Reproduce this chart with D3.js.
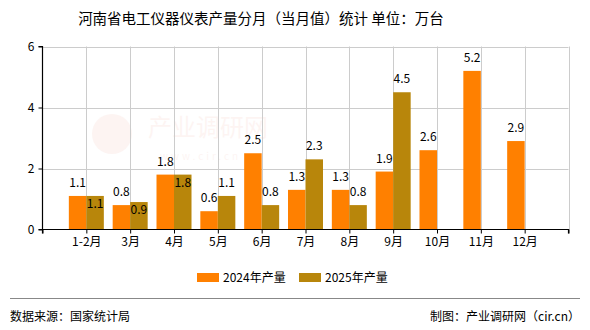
<!DOCTYPE html>
<html>
<head>
<meta charset="utf-8">
<script src="https://cdn.jsdelivr.net/npm/d3@7"></script>
<style>
  html, body { margin: 0; padding: 0; background: #fff; }
  svg { display: block; }
  text { font-family: "SimSun", "Noto Sans CJK SC", sans-serif; }
</style>
</head>
<body>
<svg id="chart" width="590" height="330"></svg>
<script>
// Monthly output (10k units) of electrical instruments, Henan province
const categories = ["1-2月", "3月", "4月", "5月", "6月", "7月", "8月", "9月", "10月", "11月", "12月"];
const values2024 = [1.1, 0.8, 1.8, 0.6, 2.5, 1.3, 1.3, 1.9, 2.6, 5.2, 2.9];
const values2025 = [1.1, 0.9, 1.8, 1.1, 0.8, 2.3, 0.8, 4.5, null, null, null];
const seriesNames = ["2024年产量", "2025年产量"];
const yTicks = [0, 2, 4, 6];

const colors = ["#FF8000", "#B8860B"];

const svg = d3.select("#chart");

const plotLeft = 42.5, plotRight = 568.5, plotTop = 46.5, plotBottom = 229.5;

// x positions: categories sit at 1..11 on a 0..12 axis
const x = d3.scaleLinear().domain([0, categories.length + 1]).range([plotLeft, plotRight]);
const y = d3.scaleLinear().domain([0, 6]).range([plotBottom, plotTop]);
const barW = 17.5;

// title
svg.append("text")
  .attr("x", 261).attr("y", 24)
  .attr("text-anchor", "middle")
  .attr("font-size", 14.5)
  .attr("fill", "#000")
  .text("河南省电工仪器仪表产量分月（当月值）统计 单位：万台");

// faint watermark
const wm = svg.append("g").attr("opacity", 0.05);
wm.append("circle").attr("cx", 112).attr("cy", 134).attr("r", 20).attr("fill", "#e0401a");
wm.append("text").attr("x", 148).attr("y", 136).attr("font-size", 24).attr("fill", "#e0401a").text("产业调研网");
wm.append("text").attr("x", 160).attr("y", 160).attr("font-size", 10).attr("fill", "#e0401a").attr("letter-spacing", 3).text("www.cir.cn");

// grid
const grid = svg.append("g").attr("stroke", "#cccccc").attr("stroke-width", 1);
grid.selectAll("line.h").data(yTicks.filter(d => d > 0)).join("line")
  .attr("x1", plotLeft).attr("x2", plotRight)
  .attr("y1", d => Math.round(y(d)) + 0.5).attr("y2", d => Math.round(y(d)) + 0.5);
grid.selectAll("line.v").data(d3.range(1, categories.length + 2)).join("line")
  .attr("x1", d => Math.round(x(d)) + 0.5).attr("x2", d => Math.round(x(d)) + 0.5)
  .attr("y1", plotTop).attr("y2", plotBottom);

// bars
const series = [values2024, values2025];
series.forEach((vals, s) => {
  svg.append("g").selectAll("rect")
    .data(vals.map((v, i) => ({ v, i })).filter(d => d.v != null))
    .join("rect")
    .attr("x", d => x(d.i + 1) - (s === 0 ? barW : 0))
    .attr("width", barW)
    .attr("y", d => y(d.v))
    .attr("height", d => y(0) - y(d.v))
    .attr("fill", colors[s]);
});

// value labels
const labels = svg.append("g").attr("font-size", 12).attr("fill", "#000").attr("text-anchor", "middle");
categories.forEach((c, i) => {
  const a = values2024[i], b = values2025[i];
  if (a != null) {
    labels.append("text")
      .attr("x", x(i + 1) - barW / 2)
      .attr("y", y(a) - 9)
      .text(a.toFixed(1));
  }
  if (b != null) {
    // drop the second label inside its bar when it would collide with the first
    const clash = a != null && Math.abs(y(a) - y(b)) < 12;
    labels.append("text")
      .attr("x", x(i + 1) + barW / 2)
      .attr("y", clash ? y(b) + 12 : y(b) - 9)
      .text(b.toFixed(1));
  }
});

// axes
const yAxis = svg.append("g")
  .attr("transform", `translate(${plotLeft},0)`)
  .call(d3.axisLeft(y).tickValues(yTicks).tickSize(4).tickFormat(d3.format("d")));
const xAxis = svg.append("g")
  .attr("transform", `translate(0,${plotBottom})`)
  .call(d3.axisBottom(x).tickValues(d3.range(0, categories.length + 2)).tickSize(4)
    .tickFormat(d => (d >= 1 && d <= categories.length) ? categories[d - 1] : ""));
[yAxis, xAxis].forEach(g => {
  g.selectAll("path.domain").attr("stroke", "#000").attr("stroke-width", 1.2);
  g.selectAll(".tick line").attr("stroke", "#000");
  g.selectAll(".tick text").attr("font-size", 12).attr("fill", "#000")
    .attr("font-family", "SimSun, 'Noto Sans CJK SC', sans-serif");
});
yAxis.select("path.domain").attr("d", `M-4,${plotBottom}H0V${plotTop}H-4`);
xAxis.select("path.domain").attr("d", `M${plotLeft},4V0H${plotRight}V4`);
yAxis.selectAll(".tick text").attr("x", -8).attr("dy", "0.35em");
xAxis.selectAll(".tick text").attr("y", 8);

// legend
const legend = svg.append("g").attr("font-size", 12);
const legendX = [197, 299];
seriesNames.forEach((n, s) => {
  legend.append("rect").attr("x", legendX[s]).attr("y", 273).attr("width", 22).attr("height", 9).attr("fill", colors[s]);
  legend.append("text").attr("x", legendX[s] + 26).attr("y", 282).attr("fill", "#000").text(n);
});

// footer
svg.append("line").attr("x1", 10).attr("x2", 580).attr("y1", 298.5).attr("y2", 298.5)
  .attr("stroke", "#888").attr("stroke-width", 1);
svg.append("text").attr("x", 10).attr("y", 321).attr("font-size", 12).attr("fill", "#000").text("数据来源：国家统计局");
svg.append("text").attr("x", 580).attr("y", 321).attr("font-size", 12).attr("fill", "#000")
  .attr("text-anchor", "end").text("制图：产业调研网（cir.cn）");
</script>
</body>
</html>
